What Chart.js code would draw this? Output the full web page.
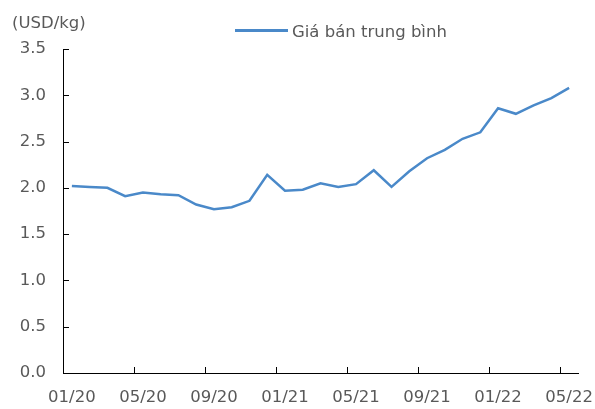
<!DOCTYPE html>
<html>
<head>
<meta charset="utf-8">
<script src="https://cdn.jsdelivr.net/npm/chart.js@4/dist/chart.umd.min.js"></script>
<style>
  body { margin: 0; background: #fff; }
  #wrap { position: relative; width: 595px; height: 409px; font-family: "DejaVu Sans", sans-serif; color: #595959; }
  #unit { position: absolute; left: 12px; top: 13px; font-size: 16.5px; line-height: 20px; }
  #legend { position: absolute; left: 235px; top: 22px; font-size: 16.5px; line-height: 20px; display: flex; align-items: center; }
  #legend .swatch { width: 53px; height: 3px; background: #4a89c9; margin-right: 4px; position: relative; top: -2px; }
</style>
</head>
<body>
<div id="wrap">
  <canvas id="priceChart" width="595" height="409"></canvas>
  <div id="unit">(USD/kg)</div>
  <div id="legend"><span class="swatch"></span><span>Giá bán trung bình</span></div>
</div>
<script>
  const months = [
    '01/20', '02/20', '03/20', '04/20', '05/20', '06/20', '07/20', '08/20', '09/20', '10/20', '11/20', '12/20',
    '01/21', '02/21', '03/21', '04/21', '05/21', '06/21', '07/21', '08/21', '09/21', '10/21', '11/21', '12/21',
    '01/22', '02/22', '03/22', '04/22', '05/22'
  ];
  const avgPrice = [
    2.02, 2.01, 2.00, 1.91, 1.95, 1.93, 1.92, 1.82, 1.77, 1.79, 1.86, 2.14,
    1.97, 1.98, 2.05, 2.01, 2.04, 2.19, 2.01, 2.18, 2.32, 2.41, 2.53, 2.60,
    2.86, 2.80, 2.89, 2.97, 3.08
  ];
  const seriesName = 'Giá bán trung bình';

  // short tick marks drawn inside the plot, like the original
  const innerTicks = {
    id: 'innerTicks',
    afterDraw(chart) {
      const { ctx, scales: { x, y } } = chart;
      ctx.save();
      ctx.strokeStyle = '#000';
      ctx.lineWidth = 1;
      ctx.beginPath();
      y.ticks.forEach((t, i) => {
        const py = Math.round(y.getPixelForTick(i)) + 0.5;
        ctx.moveTo(x.left, py);
        ctx.lineTo(x.left + 6, py);
      });
      for (let i = 4; i < months.length; i += 4) {
        const px = Math.round((x.getPixelForValue(i - 1) + x.getPixelForValue(i)) / 2) + 0.5;
        ctx.moveTo(px, y.bottom);
        ctx.lineTo(px, y.bottom - 6);
      }
      ctx.stroke();
      ctx.restore();
    }
  };

  Chart.defaults.font.family = '"DejaVu Sans", sans-serif';
  Chart.defaults.font.size = 16.5;
  Chart.defaults.color = '#595959';

  new Chart(document.getElementById('priceChart').getContext('2d'), {
    type: 'line',
    data: {
      labels: months,
      datasets: [{
        label: seriesName,
        data: avgPrice,
        borderColor: '#4a89c9',
        borderWidth: 2.5,
        pointRadius: 0,
        tension: 0,
        fill: false
      }]
    },
    options: {
      responsive: false,
      animation: false,
      layout: { padding: { top: 49, right: 17, bottom: 5, left: 0 } },
      plugins: {
        legend: { display: false },
        tooltip: { enabled: false }
      },
      scales: {
        x: {
          offset: true,
          afterFit: (scale) => {
            scale.height = 31;
            scale.paddingLeft = 0;
            scale.paddingRight = 0;
          },
          grid: { offset: true, drawOnChartArea: false, drawTicks: false },
          border: { color: '#000', width: 1 },
          ticks: {
            autoSkip: false,
            maxRotation: 0,
            padding: 15,
            callback: (v, i) => (i % 4 === 0 ? months[i] : '')
          }
        },
        y: {
          min: 0,
          max: 3.5,
          afterFit: (scale) => { scale.width = 63; },
          grid: { drawOnChartArea: false, drawTicks: false },
          border: { color: '#000', width: 1 },
          ticks: {
            stepSize: 0.5,
            padding: 17,
            callback: (v) => v.toFixed(1)
          }
        }
      }
    },
    plugins: [innerTicks]
  });
</script>
</body>
</html>
